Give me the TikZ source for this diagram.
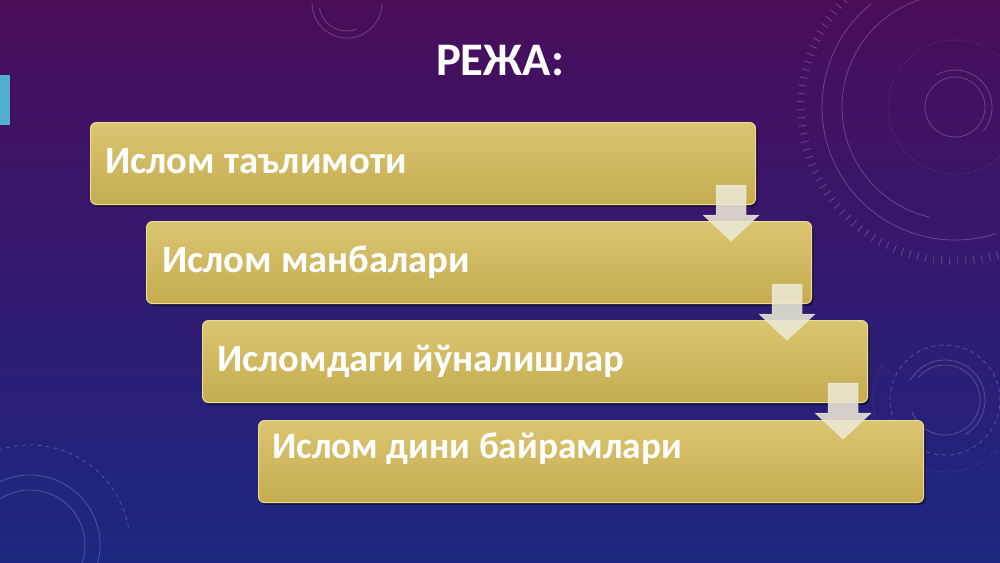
\documentclass[tikz,border=0pt]{standalone}
\usepackage{fontspec}
\setmainfont{Carlito}
\usetikzlibrary{calc,shadows}

\definecolor{bgtop}{RGB}{74,13,90}
\definecolor{bgmid}{RGB}{50,26,112}
\definecolor{bgbot}{RGB}{28,40,130}
\definecolor{goldtop}{RGB}{218,197,112}
\definecolor{goldbot}{RGB}{197,172,80}
\definecolor{goldedge}{RGB}{236,220,145}
\definecolor{arrowfill}{RGB}{236,232,214}
\definecolor{barcyan}{RGB}{82,176,206}

\tikzset{
  item/.style={anchor=north west, minimum width=498.75pt, minimum height=61.5pt,
    rounded corners=4.5pt, draw=goldedge, line width=.8pt,
    top color=goldtop, bottom color=goldbot,
    drop shadow={shadow xshift=1.5pt, shadow yshift=-1.8pt, opacity=.45, fill=black}},
  itemtext/.style={anchor=base west, text=white, font=\bfseries\fontsize{29}{34}\selectfont, inner sep=0pt},
  downarrow/.style={fill=arrowfill, fill opacity=.88, draw=white, draw opacity=.5, line width=.4pt},
  deco/.style={draw=white, opacity=.22, line width=.6pt}
}

\begin{document}
\begin{tikzpicture}[x=0.75pt,y=0.75pt]
  % background
  \fill[top color=bgtop, bottom color=bgbot, middle color=bgmid] (0,0) rectangle (1000,-562);
  \useasboundingbox (0,0) rectangle (1000,-562);

  % faint rings
  \draw[deco] (955,-107) circle (30);
  \draw[deco] (955,-107) ++(-40:37) arc (-40:120:37);
  \draw[deco, dotted] (955,-107) circle (67);
  \draw[deco] (955,-107) ++(102:113) arc (102:257:113);
  \draw[deco] (955,-107) ++(129:133) arc (129:288:133);
  \foreach \a in {100,103,...,290}
    \draw[deco] (955,-107) ++(\a:150) -- ++(\a:8);
  \draw[deco] (945,-400) ++(200:35) arc (200:500:35);
  \draw[deco] (945,-400) ++(-60:40) arc (-60:150:40);
  \draw[deco, dashed] (945,-400) circle (55);
  \draw[deco, dotted] (945,-400) ++(150:72) arc (150:340:72);
  \draw[deco] (30,-545) circle (55);
  \draw[deco] (30,-545) circle (70);
  \draw[deco, dashed] (30,-545) ++(10:100) arc (10:110:100);
  \draw[deco] (347,-3) ++(180:35) arc (180:360:35);
  \draw[deco] (347,-3) ++(190:28) arc (190:290:28);

  % side bar and title
  \fill[barcyan] (0,-75) rectangle (10,-125);
  \node[anchor=base, text=white, font=\bfseries\fontsize{35}{40}\selectfont, inner sep=0pt] (title) at (500,-75) {РЕЖА:};

  % list boxes
  \node[item] (box1) at (90,-122) {};
  \node[itemtext] (text1) at ($(box1.north west)+(15,-51)$) {Ислом таълимоти};
  \node[item] (box2) at (146,-221) {};
  \node[itemtext] (text2) at ($(box2.north west)+(16,-51)$) {Ислом манбалари};
  \node[item] (box3) at (202,-320) {};
  \node[itemtext] (text3) at ($(box3.north west)+(15,-51)$) {Исломдаги йўналишлар};
  \node[item] (box4) at (258,-420) {};
  \node[itemtext, font=\bfseries\fontsize{28}{33}\selectfont] (text4) at ($(box4.north west)+(14,-38)$) {Ислом дини байрамлари};

  % arrows between boxes
  \foreach \b in {box1,box2,box3}
    \draw[downarrow] ($(\b.south east)+(-40,20)$) -- ($(\b.south east)+(-10,20)$) -- ($(\b.south east)+(-10,-10)$)
      -- ($(\b.south east)+(3,-10)$) -- ($(\b.south east)+(-25,-36)$) -- ($(\b.south east)+(-53,-10)$)
      -- ($(\b.south east)+(-40,-10)$) -- cycle;
\end{tikzpicture}
\end{document}
